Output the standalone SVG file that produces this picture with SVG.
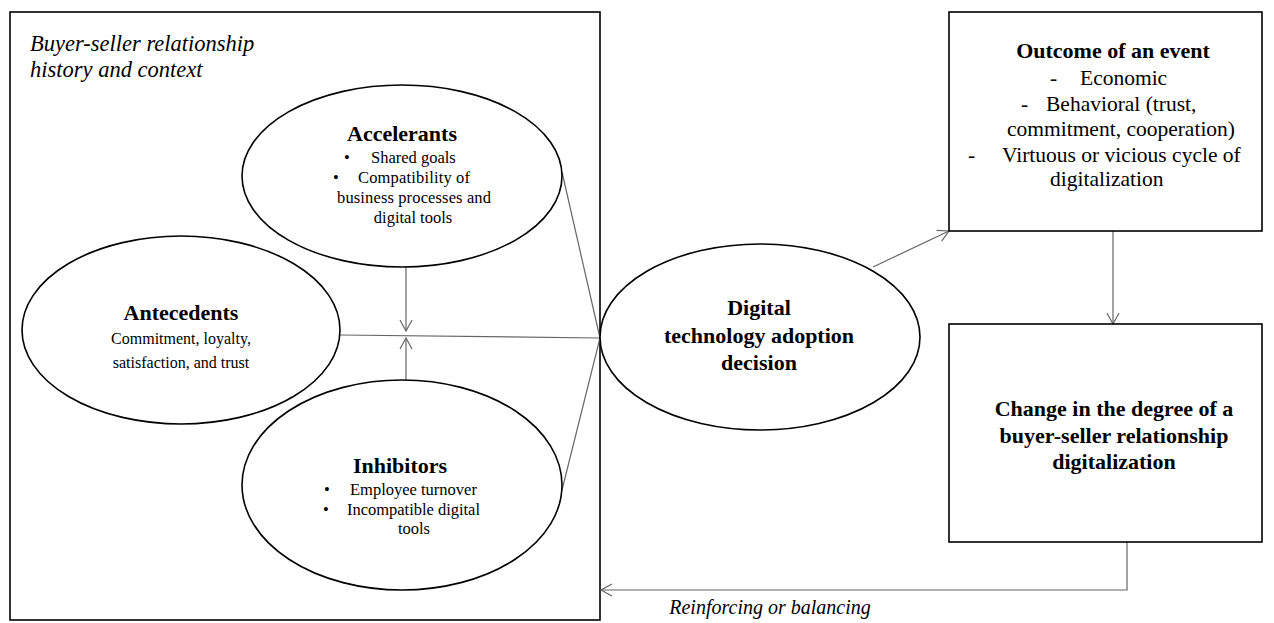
<svg xmlns="http://www.w3.org/2000/svg" width="1274" height="623" viewBox="0 0 1274 623">
<style>
.shape{fill:#fff;stroke:#000;stroke-width:1.6}
.box{fill:none;stroke:#000;stroke-width:1.6}
.conn{fill:none;stroke:#666;stroke-width:1.2}
text{font-family:"Liberation Serif","Times New Roman",serif;fill:#000}
.h{font-weight:bold;font-size:22px;text-anchor:middle}
.s{font-size:16.5px;text-anchor:middle}
.b{font-size:16.5px}
.m{font-size:21.5px}
.i{font-style:italic;font-size:22.5px}
</style>
<defs>
<marker id="arr" markerWidth="14" markerHeight="14" refX="12" refY="7" orient="auto" markerUnits="userSpaceOnUse">
<path d="M1,1 L12,7 L1,13" fill="none" stroke="#666" stroke-width="1.2"/>
</marker>
</defs>
<g id="context">
<rect class="box" x="10" y="12" width="590" height="608"/>
<text class="i" x="30" y="51">Buyer-seller relationship</text>
<text class="i" x="30" y="77">history and context</text>
</g>
<g id="connectors">
<line class="conn" x1="562" y1="172" x2="600" y2="338"/>
<line class="conn" x1="562" y1="490" x2="600" y2="338"/>
<line class="conn" x1="340" y1="335" x2="600" y2="338"/>
<line class="conn" x1="406" y1="267" x2="406" y2="331" marker-end="url(#arr)"/>
<line class="conn" x1="406" y1="380" x2="406" y2="338" marker-end="url(#arr)"/>
<line class="conn" x1="873" y1="267" x2="949" y2="231" marker-end="url(#arr)"/>
<line class="conn" x1="1113" y1="231" x2="1113" y2="324" marker-end="url(#arr)"/>
<polyline class="conn" points="1127,542 1127,590 601,590" marker-end="url(#arr)"/>
<text x="770" y="614" text-anchor="middle" style="font-style:italic;font-size:20px">Reinforcing or balancing</text>
</g>
<g id="accelerants">
<ellipse class="shape" cx="402" cy="176" rx="160" ry="91"/>
<text class="h" x="402" y="141">Accelerants</text>
<text class="b" x="344" y="163">•</text>
<text class="b" x="371" y="163">Shared goals</text>
<text class="b" x="333" y="183">•</text>
<text class="b" x="358" y="183" textLength="112">Compatibility  of</text>
<text class="s" x="414" y="203" textLength="154">business processes and</text>
<text class="s" x="413" y="223">digital  tools</text>
</g>
<g id="antecedents">
<ellipse class="shape" cx="181" cy="330" rx="159" ry="94"/>
<text class="h" x="181" y="320">Antecedents</text>
<text x="181" y="344" text-anchor="middle" style="font-size:16px">Commitment, loyalty,</text>
<text x="181" y="368" text-anchor="middle" style="font-size:16px">satisfaction, and trust</text>
</g>
<g id="inhibitors">
<ellipse class="shape" cx="402" cy="485" rx="160" ry="105"/>
<text class="h" x="400" y="473">Inhibitors</text>
<text class="b" x="324" y="495">•</text>
<text class="b" x="350" y="495">Employee turnover</text>
<text class="b" x="323" y="515">•</text>
<text class="b" x="347" y="515" textLength="133">Incompatible digital</text>
<text class="s" x="414" y="534">tools</text>
</g>
<g id="decision">
<ellipse class="shape" cx="760" cy="337" rx="160" ry="93"/>
<text class="h" x="759" y="315">Digital</text>
<text class="h" x="759" y="343">technology adoption</text>
<text class="h" x="759" y="370">decision</text>
</g>
<g id="outcome">
<rect class="box" x="949" y="12" width="313" height="219"/>
<text class="h" x="1113" y="58">Outcome of an event</text>
<text class="m" x="1050" y="85">-</text>
<text class="m" x="1080" y="85">Economic</text>
<text class="m" x="1021" y="111">-</text>
<text class="m" x="1046" y="111">Behavioral (trust,</text>
<text class="m" x="1121" y="136" text-anchor="middle">commitment, cooperation)</text>
<text class="m" x="968" y="162">-</text>
<text class="m" x="1002" y="162">Virtuous or vicious cycle of</text>
<text class="m" x="1050" y="186">digitalization</text>
</g>
<g id="change">
<rect class="box" x="949" y="324" width="313" height="218"/>
<text class="h" x="1114" y="416">Change in the degree of a</text>
<text class="h" x="1114" y="443">buyer-seller relationship</text>
<text class="h" x="1114" y="469">digitalization</text>
</g>
</svg>
